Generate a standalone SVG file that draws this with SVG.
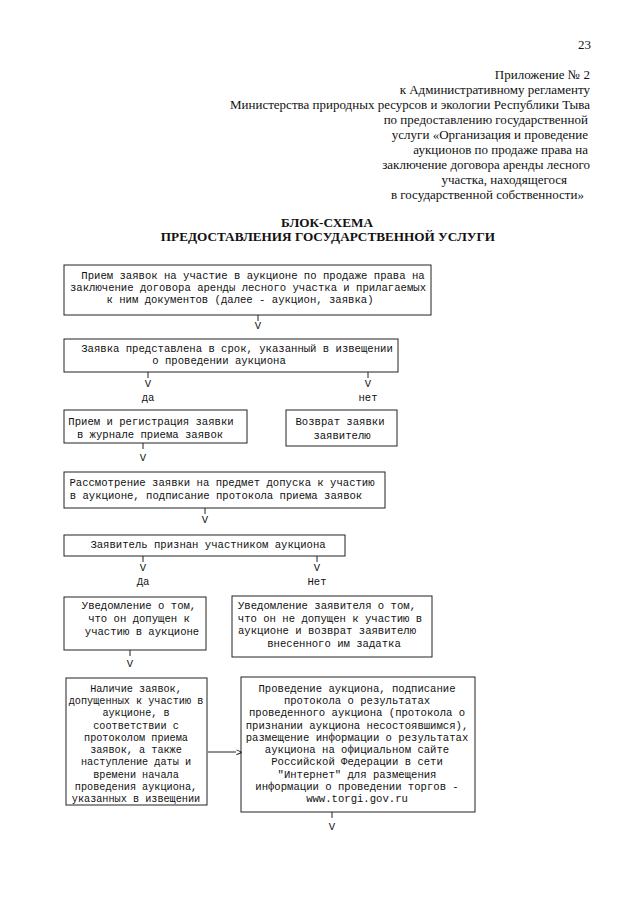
<svg xmlns="http://www.w3.org/2000/svg" width="640" height="905" viewBox="0 0 640 905">
<style>
.hd{font-family:"Liberation Serif",serif;font-size:13px;fill:#111;text-anchor:end}
.tt{font-family:"Liberation Serif",serif;font-size:13.2px;font-weight:bold;fill:#111;text-anchor:middle}
.bx{fill:none;stroke:#222;stroke-width:1}
.m{font-family:"Liberation Mono",monospace;font-size:10.6px;fill:#111;text-anchor:middle}
.s{font-size:10.2px}
.ln{stroke:#222;stroke-width:1;fill:none}
</style>
<rect width="640" height="905" fill="#fff"/>
<g id="header">
<text class="hd" x="591" y="49" font-size="15">23</text>
<text class="hd" x="590" y="79">Приложение № 2</text>
<text class="hd" x="590" y="94">к Административному регламенту</text>
<text class="hd" x="590" y="109">Министерства природных ресурсов и экологии Республики Тыва</text>
<text class="hd" x="588" y="124">по предоставлению государственной</text>
<text class="hd" x="588" y="139">услуги «Организация и проведение</text>
<text class="hd" x="588" y="154">аукционов по продаже права на</text>
<text class="hd" x="590" y="169">заключение договора аренды лесного</text>
<text class="hd" x="567" y="184">участка, находящегося</text>
<text class="hd" x="584" y="199">в государственной собственности»</text>
</g>
<g id="title">
<text class="tt" x="327" y="227">БЛОК-СХЕМА</text>
<text class="tt" x="328" y="241">ПРЕДОСТАВЛЕНИЯ ГОСУДАРСТВЕННОЙ УСЛУГИ</text>
</g>
<g id="n1">
<rect class="bx" x="64" y="265" width="367" height="50"/>
<text class="m" x="253" y="279">Прием заявок на участие в аукционе по продаже права на</text>
<text class="m" x="248" y="291">заключение договора аренды лесного участка и прилагаемых</text>
<text class="m" x="240" y="303">к ним документов (далее - аукцион, заявка)</text>
</g>
<g id="n2">
<rect class="bx" x="64" y="339" width="334" height="33"/>
<text class="m" x="237" y="352">Заявка представлена в срок, указанный в извещении</text>
<text class="m" x="219" y="364">о проведении аукциона</text>
</g>
<g id="n3">
<rect class="bx" x="64" y="410" width="183" height="33"/>
<text class="m" x="151" y="425">Прием и регистрация заявки</text>
<text class="m" x="150" y="438">в журнале приема заявок</text>
</g>
<g id="n4">
<rect class="bx" x="286" y="410" width="111" height="36"/>
<text class="m" x="340" y="425">Возврат заявки</text>
<text class="m" x="342" y="439">заявителю</text>
</g>
<g id="n5">
<rect class="bx" x="64" y="472" width="321" height="36"/>
<text class="m" x="222" y="486">Рассмотрение заявки на предмет допуска к участию</text>
<text class="m" x="216" y="499">в аукционе, подписание протокола приема заявок</text>
</g>
<g id="n6">
<rect class="bx" x="64" y="535" width="281" height="21"/>
<text class="m" x="208" y="548">Заявитель признан участником аукциона</text>
</g>
<g id="n7">
<rect class="bx" x="64" y="597" width="142" height="53"/>
<text class="m" x="139" y="609">Уведомление о том,</text>
<text class="m" x="139" y="622">что он допущен к</text>
<text class="m" x="142" y="635">участию в аукционе</text>
</g>
<g id="n8">
<rect class="bx" x="232" y="596" width="200" height="61"/>
<text class="m" x="327" y="609">Уведомление заявителя о том,</text>
<text class="m" x="330" y="622">что он не допущен к участию в</text>
<text class="m" x="327" y="634">аукционе и возврат заявителю</text>
<text class="m" x="334" y="647">внесенного им задатка</text>
</g>
<g id="n9">
<rect class="bx" x="66" y="678" width="141" height="127"/>
<text class="m s" x="136" y="692">Наличие заявок,</text>
<text class="m s" x="136" y="704">допущенных к участию в</text>
<text class="m s" x="136" y="716">аукционе, в</text>
<text class="m s" x="136" y="729">соответствии с</text>
<text class="m s" x="136" y="741">протоколом приема</text>
<text class="m s" x="136" y="753">заявок, а также</text>
<text class="m s" x="136" y="765">наступление даты и</text>
<text class="m s" x="136" y="778">времени начала</text>
<text class="m s" x="136" y="790">проведения аукциона,</text>
<text class="m s" x="136" y="802">указанных в извещении</text>
</g>
<g id="n10">
<rect class="bx" x="241" y="677" width="234" height="135"/>
<text class="m" x="357" y="692">Проведение аукциона, подписание</text>
<text class="m" x="357" y="704">протокола о результатах</text>
<text class="m" x="357" y="716">проведенного аукциона (протокола о</text>
<text class="m" x="357" y="729">признании аукциона несостоявшимся),</text>
<text class="m" x="357" y="741">размещение информации о результатах</text>
<text class="m" x="357" y="753">аукциона на официальном сайте</text>
<text class="m" x="357" y="765">Российской Федерации в сети</text>
<text class="m" x="357" y="778">"Интернет" для размещения</text>
<text class="m" x="357" y="790">информации о проведении торгов -</text>
<text class="m" x="357" y="802">www.torgi.gov.ru</text>
</g>
<g id="connectors">
<path class="ln" d="M258 315V321M148 372V378M368 372V378M143 443V449M205 508V514M143 556V562M317 556V562M130 650V656M332 812V818M208 752H236"/>
<text class="m" x="258" y="329">V</text>
<text class="m" x="148" y="387">V</text>
<text class="m" x="148" y="401">да</text>
<text class="m" x="368" y="387">V</text>
<text class="m" x="368" y="401">нет</text>
<text class="m" x="143" y="461">V</text>
<text class="m" x="205" y="523">V</text>
<text class="m" x="143" y="571">V</text>
<text class="m" x="143" y="585">Да</text>
<text class="m" x="317" y="571">V</text>
<text class="m" x="317" y="585">Нет</text>
<text class="m" x="130" y="667">V</text>
<text class="m" x="239" y="756">&gt;</text>
<text class="m" x="332" y="830">V</text>
</g>
</svg>
